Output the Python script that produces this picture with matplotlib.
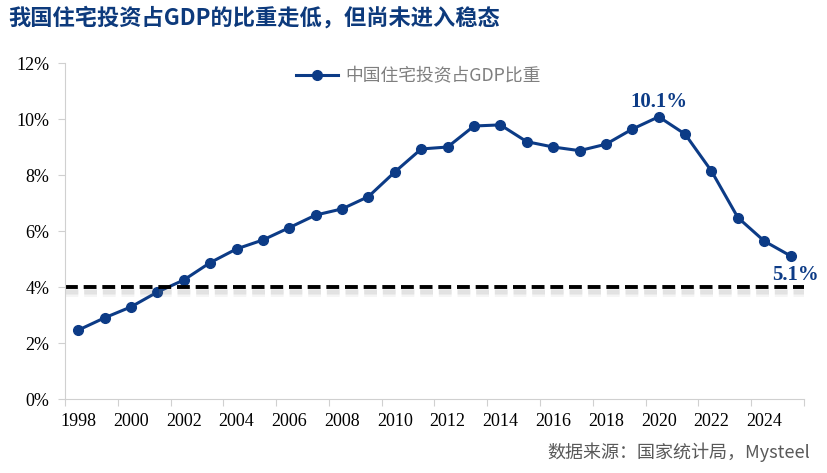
import matplotlib.pyplot as plt
import matplotlib.patheffects as pe
import numpy as np

plt.rcParams['font.family'] = ['Noto Sans CJK SC', 'DejaVu Sans']

years = list(range(1998, 2026))
share = [2.47, 2.91, 3.30, 3.83, 4.26, 4.88, 5.37, 5.69, 6.13, 6.58,
         6.80, 7.24, 8.12, 8.94, 9.01, 9.76, 9.80, 9.20, 9.01, 8.88,
         9.11, 9.65, 10.09, 9.47, 8.15, 6.49, 5.65, 5.12]
threshold = 4.0
yticks = [0, 2, 4, 6, 8, 10, 12]

blue = '#0c3b86'
grey_axis = '#d0d0d0'

fig = plt.figure(figsize=(8.27, 4.73), dpi=100)
ax = fig.add_axes([0.0786, 0.1558, 0.8934, 0.7104])

x = np.arange(len(years))
ax.plot(x, share, color=blue, lw=2.2, marker='o', ms=7, label='中国住宅投资占GDP比重')

# dashed reference line with a soft shadow underneath
shadow = [pe.SimpleLineShadow(offset=(0, -o), shadow_color='gray', alpha=0.08, linewidth=3.5)
          for o in (1.5, 2.5, 3.5, 4.5)]
ax.axhline(threshold, color='black', lw=2.8, ls=(0, (3.3, 1.5)),
           path_effects=shadow + [pe.Normal()])

# labels for peak and last value
i_peak = int(np.argmax(share))
ax.annotate(f'{share[i_peak]:.1f}%', (x[i_peak], share[i_peak]), xytext=(0, 7),
            textcoords='offset points', ha='center', va='baseline', color=blue,
            fontsize=15, fontweight='bold', family='Liberation Serif')
ax.annotate(f'{share[-1]:.1f}%', (x[-1], share[-1]), xytext=(3.5, -17.3),
            textcoords='offset points', ha='center', va='baseline', color=blue,
            fontsize=15, fontweight='bold', family='Liberation Serif')

ax.set_xlim(-0.5, len(years) - 0.5)
ax.set_ylim(0, 12)
ax.set_yticks(yticks)
ax.set_yticklabels([f'{v}%' for v in yticks], family='Liberation Serif', fontsize=13)

ax.set_xticks(np.arange(-0.5, len(years), 2))
ax.set_xticklabels([])
ax.set_xticks(x[::2], minor=True)
ax.set_xticklabels([str(y) for y in years[::2]], minor=True, family='Liberation Serif', fontsize=13)
ax.tick_params(axis='x', which='major', length=5, color=grey_axis)
ax.tick_params(axis='x', which='minor', length=0, pad=10)
ax.tick_params(axis='y', length=5, color=grey_axis, pad=6)

for s in ['top', 'right']:
    ax.spines[s].set_visible(False)
for s in ['left', 'bottom']:
    ax.spines[s].set_color(grey_axis)

leg = ax.legend(loc='upper center', bbox_to_anchor=(0.478, 1.035), frameon=False,
                fontsize=12.8, handlelength=2.4, handletextpad=0.4)
for t in leg.get_texts():
    t.set_color('#7f7f7f')

fig.text(0.01, 0.962, '我国住宅投资占GDP的比重走低，但尚未进入稳态', color='#0d3a7c',
         fontsize=16, fontweight='bold', va='center')
fig.text(0.98, 0.045, '数据来源：国家统计局，Mysteel', color='#595959', fontsize=13,
         ha='right', va='center')

fig.savefig('out.png', dpi=100)
